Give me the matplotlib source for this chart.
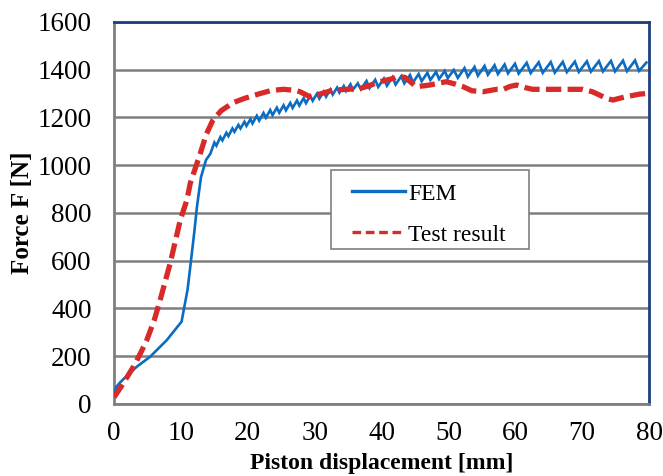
import matplotlib
matplotlib.use("Agg")
import matplotlib.pyplot as plt
from matplotlib.lines import Line2D
from matplotlib.patches import Rectangle

# FEM force-displacement curve (mm, N)
fem_disp = [0.0, 0.3, 0.9, 2.0, 3.4, 5.4, 7.9, 10.1, 11.0, 11.4, 12.0, 12.4, 13.0, 13.75,
            14.4, 15.0, 15.3, 15.9, 16.2, 16.8, 17.1, 17.7, 18.0, 18.6, 18.9, 19.5, 19.8, 20.4,
            20.7, 21.35, 21.7, 22.35, 22.7, 23.35, 23.7, 24.35, 24.7, 25.35, 25.7, 26.35,
            26.7, 27.35, 27.7, 28.35, 28.7, 29.35, 29.7, 30.35, 30.7, 31.35, 31.7, 32.35,
            32.7, 33.35, 33.7, 34.35, 34.7, 35.35, 35.7, 36.45,
            36.9, 37.75, 38.2, 39.05, 39.5, 40.35, 40.8, 41.65, 42.1, 42.95, 43.4, 44.25,
            44.7, 45.55, 46.0, 46.85, 47.3, 48.15, 48.6, 49.45, 49.9, 50.8,
            51.4, 52.4, 52.9, 53.9, 54.4, 55.4, 55.9, 56.9, 57.4, 58.4, 58.9, 59.95,
            60.5, 61.7, 62.3, 63.5, 64.1, 65.3, 65.9, 67.1, 67.7, 68.9, 69.5, 70.7,
            71.3, 72.5, 73.1, 74.3, 74.9, 76.1, 76.7, 77.9, 78.5, 79.6]
fem_force = [35, 70, 90, 120, 156, 198, 268, 345, 480, 575, 720, 826, 950, 1022,
             1048, 1095, 1082, 1118, 1104, 1136, 1122, 1154, 1140, 1169, 1154, 1182, 1165, 1193,
             1175, 1207, 1187, 1219, 1199, 1231, 1210, 1241, 1220, 1251, 1230, 1261,
             1240, 1271, 1250, 1281, 1260, 1291, 1270, 1300, 1279, 1308, 1287, 1317,
             1296, 1325, 1304, 1332, 1311, 1339, 1316, 1343,
             1318, 1353, 1323, 1358, 1328, 1363, 1333, 1369, 1338, 1373, 1343, 1378,
             1347, 1382, 1352, 1387, 1357, 1391, 1361, 1395, 1365, 1399,
             1366, 1407, 1371, 1412, 1375, 1416, 1379, 1419, 1382, 1422, 1385, 1425,
             1384, 1429, 1386, 1431, 1387, 1432, 1388, 1433, 1390, 1434, 1391, 1435,
             1392, 1436, 1393, 1437, 1393, 1438, 1394, 1439, 1395, 1430]

# Measured force-displacement curve (mm, N)
test_disp = [0.0, 1.0, 2.0, 2.9, 4.0, 4.9, 6.0, 6.9, 8.4, 9.9, 10.9, 11.4, 12.4, 12.9,
             13.8, 14.8, 16.0, 17.8, 19.5, 21.8, 23.5, 25.3, 27.0, 27.8, 28.5, 29.3, 30.5,
             32.8, 35.0, 36.8, 37.8, 39.8, 41.8, 42.3, 43.5, 44.5, 45.2, 47.2, 49.7, 51.0,
             52.2, 53.5, 55.2, 57.2, 58.2, 59.2, 60.2, 61.5, 62.6, 65.2, 67.7, 70.1, 71.5,
             72.6, 73.6, 74.6, 75.5, 76.6, 78.6, 79.5]
test_force = [28, 70, 115, 156, 215, 268, 350, 436, 590, 770, 855, 925, 1008, 1050,
              1130, 1190, 1228, 1262, 1280, 1300, 1313, 1318, 1314, 1308, 1298, 1287, 1296,
              1315, 1318, 1322, 1330, 1350, 1364, 1371, 1368, 1345, 1329, 1336, 1350, 1340,
              1329, 1312, 1308, 1318, 1318, 1330, 1336, 1325, 1318, 1318, 1318, 1318, 1308,
              1294, 1280, 1273, 1280, 1287, 1298, 1300]

x_ticks = [0, 10, 20, 30, 40, 50, 60, 70, 80]
y_ticks = [0, 200, 400, 600, 800, 1000, 1200, 1400, 1600]
series_names = ["FEM", "Test result"]

FEM_BLUE = "#0a6cc2"
TEST_RED = "#d92a2a"
GRID_GRAY = "#7f7f7f"
FRAME_NAVY = "#1c3f7c"

plt.rcParams["font.family"] = ["Liberation Serif", "DejaVu Serif"]

fig = plt.figure(figsize=(6.63, 4.76), dpi=100)
ax = fig.add_axes([0.172, 0.1513, 0.807, 0.8025])

ax.plot(fem_disp, fem_force, color=FEM_BLUE, lw=1.9, zorder=3, solid_joinstyle="miter")
ax.plot(test_disp, test_force, color=TEST_RED, lw=3.8, dashes=(2.9, 1.2), zorder=4)

ax.set_xlim(0, 80)
ax.set_ylim(0, 1600)
ax.set_xticks(x_ticks)
ax.set_yticks(y_ticks)
ax.tick_params(axis="both", length=0, labelsize=19.5)
ax.tick_params(axis="y", pad=16)
ax.tick_params(axis="x", pad=12)

ax.grid(axis="y", color=GRID_GRAY, lw=1.8, zorder=1)
ax.set_axisbelow(True)
for side in ("left", "bottom"):
    ax.spines[side].set_color(GRID_GRAY)
    ax.spines[side].set_linewidth(2.0)
for side in ("top", "right"):
    ax.spines[side].set_color(FRAME_NAVY)
    ax.spines[side].set_linewidth(2.0)

ax.set_xlabel("Piston displacement [mm]", fontsize=17, fontweight="bold", labelpad=5)
ax.set_ylabel("Force F [N]", fontsize=18, fontweight="bold", labelpad=3)

# legend frame drawn as a separate box so its padding can be wider than tall
ax.add_patch(Rectangle((0.4056, 0.4058), 0.370, 0.2068, transform=ax.transAxes,
                       facecolor="white", edgecolor=GRID_GRAY, lw=1.2, zorder=5))

handles = [Line2D([], [], color=FEM_BLUE, lw=2.4),
           Line2D([], [], color=TEST_RED, lw=2.4, dashes=(2.6, 1.4))]
leg = ax.legend(handles, series_names, loc="upper left",
                bbox_to_anchor=(0.445, 0.578), fontsize=17, frameon=False,
                handlelength=2.25, handletextpad=0.13, borderpad=0, labelspacing=0.82,
                borderaxespad=0)
leg.set_zorder(6)

fig.savefig("out.png", dpi=100)
